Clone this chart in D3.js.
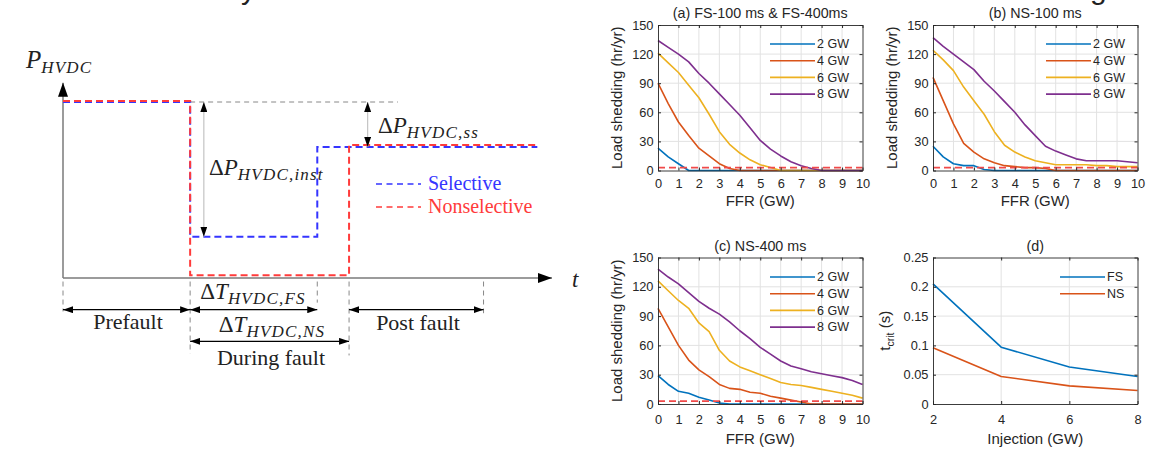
<!DOCTYPE html>
<html>
<head>
<meta charset="utf-8">
<script src="https://cdn.jsdelivr.net/npm/d3@7"></script>
<style>
  body { margin: 0; background: #fff; }
  svg { display: block; }
</style>
</head>
<body>
<svg id="fig"></svg>
<script>
// ---- data -------------------------------------------------------------
// schematic (left): time in arbitrary units 0..100, power in p.u. of prefault
const selectiveT = [0, 26, 26, 52, 52, 97];
const selectiveP = [1, 1, 0.235, 0.235, 0.745, 0.745];
const nonselT = [0, 26, 26, 58.5, 58.5, 97];
const nonselP = [1.006, 1.006, 0.015, 0.015, 0.756, 0.756];
const phaseT = [0, 26, 52, 58.5, 86];          // prefault start, fault, FS clear, NS clear, post end
const phaseDrop = [-0.19, -0.43, -0.14, -0.44, -0.2];

// load shedding vs FFR
const ffrGW = [0, 0.5, 1, 1.5, 2, 2.5, 3, 3.5, 4, 4.5, 5, 5.5, 6, 6.5, 7, 7.5, 8, 8.5, 9, 9.5, 10];
const capacityNames = ['2 GW', '4 GW', '6 GW', '8 GW'];
const shedFS = [
  [23, 14, 7, 0, 0, 0, 0, 0, 0, 0, 0, 0, 0, 0, 0, 0, 0, 0, 0, 0, 0],
  [90, 69, 50, 36, 23, 15, 7, 2, 0, 0, 0, 0, 0, 0, 0, 0, 0, 0, 0, 0, 0],
  [121, 111, 101, 88, 75, 58, 40, 27, 18, 11, 6, 3, 0, 0, 0, 0, 0, 0, 0, 0, 0],
  [134, 127, 120, 112, 100, 90, 79, 68, 57, 44, 31, 22, 15, 9, 5, 2, 0, 0, 0, 0, 0]
];
const shedNS100 = [
  [25, 14, 7, 5, 5, 1, 0, 0, 0, 0, 0, 0, 0, 0, 0, 0, 0, 0, 0, 0, 0],
  [96, 72, 48, 28, 19, 12, 8, 5, 4, 3, 3, 2, 0, 0, 0, 0, 0, 0, 0, 0, 0],
  [124, 114, 103, 86, 72, 58, 40, 26, 19, 14, 10, 8, 6, 6, 6, 6, 5, 5, 4, 4, 4],
  [137, 128, 120, 112, 104, 92, 82, 71, 60, 47, 36, 25, 20, 16, 12, 10, 10, 10, 10, 9, 8]
];
const shedNS400 = [
  [29, 20, 13, 11, 7, 4, 1, 0, 0, 0, 0, 0, 0, 0, 0, 0, 0, 0, 0, 0, 0],
  [98, 79, 60, 45, 35, 28, 20, 16, 15, 12, 11, 8, 6, 4, 2, 0, 0, 0, 0, 0, 0],
  [126, 116, 106, 98, 83, 74, 55, 44, 38, 34, 30, 26, 22, 20, 19, 17, 15, 13, 11, 9, 6],
  [138, 130, 123, 114, 105, 98, 92, 84, 75, 67, 58, 51, 44, 39, 36, 33, 31, 29, 27, 24, 20]
];
const shedLimit = 3;
const ffrTicks = [0, 1, 2, 3, 4, 5, 6, 7, 8, 9, 10];
const shedTicks = [0, 30, 60, 90, 120, 150];

// critical clearing time
const injectionGW = [2, 4, 6, 8];
const schemeNames = ['FS', 'NS'];
const tcritFS = [0.205, 0.097, 0.063, 0.047];
const tcritNS = [0.096, 0.047, 0.031, 0.023];
const injectionTicks = [2, 4, 6, 8];
const tcritTicks = [0, 0.05, 0.1, 0.15, 0.2, 0.25];
const tcritTickLabels = ['0', '0.05', '0.1', '0.15', '0.2', '0.25'];

const matlab = ['#0072BD', '#D95319', '#EDB120', '#7E2F8E'];
const serif = "'Liberation Serif', 'DejaVu Serif', serif";
const sans = "'Liberation Sans', Arial, sans-serif";

const svg = d3.select('#fig').attr('width', 1152).attr('height', 450);
svg.append('rect').attr('width', 1152).attr('height', 450).attr('fill', '#fff');

// cut-off title glyphs at the very top edge
svg.append('text').attr('x', 241).attr('y', -1).attr('font-family', sans)
  .attr('font-size', 30).attr('fill', '#222').text('y');
svg.append('text').attr('x', 1090).attr('y', -1).attr('font-family', sans)
  .attr('font-size', 30).attr('fill', '#222').text('g');

// ---- left: schematic --------------------------------------------------
const defs = svg.append('defs');
const marker = (id, w, h) => defs.append('marker').attr('id', id)
  .attr('viewBox', `0 0 ${w} ${h}`).attr('refX', w).attr('refY', h / 2)
  .attr('markerWidth', w).attr('markerHeight', h).attr('markerUnits', 'userSpaceOnUse')
  .attr('orient', 'auto-start-reverse')
  .append('path').attr('d', `M0,0L${w},${h / 2}L0,${h}Z`).attr('fill', '#000');
marker('ah', 10, 7);
marker('ahBig', 14, 10);

const tS = d3.scaleLinear([0, 100], [63, 552]);
const pS = d3.scaleLinear([0, 1], [278, 102]);
const schem = svg.append('g');

// axes
schem.append('line').attr('x1', tS(0)).attr('x2', tS(0)).attr('y1', pS(0)).attr('y2', pS(1.11))
  .attr('stroke', '#7a7a7a').attr('stroke-width', 1.5).attr('marker-end', 'url(#ahBig)');
schem.append('line').attr('x1', tS(0)).attr('x2', tS(100)).attr('y1', pS(0)).attr('y2', pS(0))
  .attr('stroke', '#7a7a7a').attr('stroke-width', 1.5).attr('marker-end', 'url(#ahBig)');

// reference level
schem.append('line').attr('x1', tS(26)).attr('x2', tS(68.5)).attr('y1', pS(1)).attr('y2', pS(1))
  .attr('stroke', '#888').attr('stroke-dasharray', '5,4');

// phase markers below the axis
schem.selectAll('.phase').data(phaseT).join('line')
  .attr('x1', d => tS(d)).attr('x2', d => tS(d))
  .attr('y1', pS(-0.02)).attr('y2', (d, i) => pS(phaseDrop[i]))
  .attr('stroke', '#888').attr('stroke-dasharray', '5,4');

// signal traces
const stepLine = d3.line().x(d => tS(d[0])).y(d => pS(d[1]));
schem.append('path').attr('d', stepLine(d3.zip(selectiveT, selectiveP)))
  .attr('fill', 'none').attr('stroke', '#3535ff').attr('stroke-width', 2).attr('stroke-dasharray', '7,4');
schem.append('path').attr('d', stepLine(d3.zip(nonselT, nonselP)))
  .attr('fill', 'none').attr('stroke', '#ff3b3b').attr('stroke-width', 2).attr('stroke-dasharray', '7,4');

// delta-P arrows
schem.append('line').attr('x1', tS(28.8)).attr('x2', tS(28.8)).attr('y1', pS(1)).attr('y2', pS(0.235))
  .attr('stroke', '#c4c4c4').attr('stroke-width', 1.2)
  .attr('marker-start', 'url(#ah)').attr('marker-end', 'url(#ah)');
schem.append('line').attr('x1', tS(62.3)).attr('x2', tS(62.3)).attr('y1', pS(1)).attr('y2', pS(0.745))
  .attr('stroke', '#c4c4c4').attr('stroke-width', 1.2)
  .attr('marker-start', 'url(#ah)').attr('marker-end', 'url(#ah)');

// duration arrows
const spans = [[0, 26, -0.18], [26, 52, -0.18], [58.5, 86, -0.18], [26, 58.5, -0.36]];
schem.selectAll('.span').data(spans).join('line')
  .attr('x1', d => tS(d[0])).attr('x2', d => tS(d[1]))
  .attr('y1', d => pS(d[2])).attr('y2', d => pS(d[2]))
  .attr('stroke', '#000').attr('stroke-width', 1.3)
  .attr('marker-start', 'url(#ah)').attr('marker-end', 'url(#ah)');

// math-ish labels
function mathText(x, y, parts, anchor) {
  const t = schem.append('text').attr('x', x).attr('y', y)
    .attr('font-family', serif).attr('font-size', 23).attr('fill', '#222')
    .attr('text-anchor', anchor || 'start');
  let shifted = false;
  parts.forEach(p => {
    const s = t.append('tspan').text(p.t);
    if (p.i) s.attr('font-style', 'italic');
    if (p.sub) {
      s.attr('font-size', 17).attr('font-style', 'italic').attr('letter-spacing', 1.2).attr('dy', 5);
      shifted = true;
    } else if (shifted) {
      s.attr('dy', -5);
      shifted = false;
    }
  });
  return t;
}
mathText(26, 68, [{t: 'P', i: true}, {t: 'HVDC', sub: true}]).attr('font-size', 25);
mathText(572, 287, [{t: 't', i: true}]);
mathText(209, 175, [{t: 'Δ'}, {t: 'P', i: true}, {t: 'HVDC,inst', sub: true}]);
mathText(378, 133, [{t: 'Δ'}, {t: 'P', i: true}, {t: 'HVDC,ss', sub: true}]);
mathText(253, 299, [{t: 'Δ'}, {t: 'T', i: true}, {t: 'HVDC,FS', sub: true}], 'middle');
mathText(272, 332, [{t: 'Δ'}, {t: 'T', i: true}, {t: 'HVDC,NS', sub: true}], 'middle');

const plainText = [['Prefault', 128, 329], ['Post fault', 418, 330], ['During fault', 271, 365]];
schem.selectAll('.lbl').data(plainText).join('text')
  .attr('x', d => d[1]).attr('y', d => d[2]).attr('text-anchor', 'middle')
  .attr('font-family', serif).attr('font-size', 22).attr('fill', '#222').text(d => d[0]);

// schematic legend
const schemLegend = [['Selective', '#3535ff'], ['Nonselective', '#ff3b3b']];
schemLegend.forEach(([name, col], i) => {
  const y = 184 + i * 23;
  schem.append('line').attr('x1', 376).attr('x2', 421).attr('y1', y).attr('y2', y)
    .attr('stroke', col).attr('stroke-width', 1.6).attr('stroke-dasharray', '6,4.5');
  schem.append('text').attr('x', 428).attr('y', y + 6).attr('font-family', serif)
    .attr('font-size', 20).attr('fill', col).text(name);
});

// ---- right: MATLAB-style panels ------------------------------------------
function panel(o) {
  const g = svg.append('g');
  const x = d3.scaleLinear(o.xDomain, [o.left, o.right]);
  const y = d3.scaleLinear(o.yDomain, [o.bottom, o.top]);
  g.selectAll('.gx').data(o.xTicks.slice(1, -1)).join('line')
    .attr('x1', d => x(d)).attr('x2', d => x(d)).attr('y1', o.top).attr('y2', o.bottom)
    .attr('stroke', '#e2e2e2');
  g.selectAll('.gy').data(o.yTicks.slice(1, -1)).join('line')
    .attr('y1', d => y(d)).attr('y2', d => y(d)).attr('x1', o.left).attr('x2', o.right)
    .attr('stroke', '#e2e2e2');

  const line = d3.line().x(d => x(d[0])).y(d => y(d[1]));
  o.series.forEach((vals, i) => {
    g.append('path').attr('d', line(d3.zip(o.xs, vals)))
      .attr('fill', 'none').attr('stroke', matlab[i]).attr('stroke-width', 1.6)
      .attr('stroke-linejoin', 'round');
  });
  if (o.limit != null) {
    g.append('line').attr('x1', x(o.xDomain[0])).attr('x2', x(o.xDomain[1]))
      .attr('y1', y(o.limit)).attr('y2', y(o.limit))
      .attr('stroke', '#f04a4a').attr('stroke-width', 1.7).attr('stroke-dasharray', '7,4');
  }

  const ax = (gen, tx, ty) => g.append('g').attr('transform', `translate(${tx},${ty})`)
    .call(gen).attr('color', '#262626').attr('font-family', sans).attr('font-size', 12.8)
    .call(s => s.select('.domain').attr('stroke-width', 0.9));
  ax(d3.axisBottom(x).tickValues(o.xTicks).tickSize(-3).tickSizeOuter(0).tickPadding(o.xPad)
    .tickFormat(d3.format('d')), 0, o.bottom);
  ax(d3.axisTop(x).tickValues(o.xTicks).tickSize(-3).tickSizeOuter(0).tickFormat(() => ''), 0, o.top);
  ax(d3.axisLeft(y).tickValues(o.yTicks).tickSize(-3).tickSizeOuter(0).tickPadding(4.5)
    .tickFormat(o.yFormat), o.left, 0);
  ax(d3.axisRight(y).tickValues(o.yTicks).tickSize(-3).tickSizeOuter(0).tickFormat(() => ''), o.right, 0);

  const cx = (o.left + o.right) / 2;
  g.append('text').attr('x', cx).attr('y', o.top - 7).attr('text-anchor', 'middle')
    .attr('font-family', sans).attr('font-size', 14.3).attr('fill', '#262626').text(o.title);
  g.append('text').attr('x', cx).attr('y', o.bottom + o.xLabelGap).attr('text-anchor', 'middle')
    .attr('font-family', sans).attr('font-size', 15).attr('fill', '#262626').text(o.xLabel);
  const yl = g.append('text')
    .attr('transform', `translate(${o.left - o.yLabelGap},${(o.top + o.bottom) / 2}) rotate(-90)`)
    .attr('text-anchor', 'middle').attr('font-family', sans).attr('font-size', 15)
    .attr('fill', '#262626');
  o.yLabel(yl);

  o.names.forEach((name, i) => {
    const ly = o.legendTop + i * 16.7;
    g.append('line').attr('x1', o.legendX).attr('x2', o.legendX + 45).attr('y1', ly).attr('y2', ly)
      .attr('stroke', matlab[i]).attr('stroke-width', 1.6);
    g.append('text').attr('x', o.legendX + 47).attr('y', ly + 4.3)
      .attr('font-family', sans).attr('font-size', 12.5).attr('fill', '#262626').text(name);
  });
}

const shedLabel = t => t.text('Load shedding (hr/yr)');
const shedPanels = [
  ['(a) FS-100 ms & FS-400ms', shedFS, 658, 862.5, 25, 170.5, 8.5, 35, 770, 44],
  ['(b) NS-100 ms', shedNS100, 933, 1137.5, 25, 170.5, 8.5, 35, 1046, 44],
  ['(c) NS-400 ms', shedNS400, 658, 862.5, 257.5, 404, 10.5, 40, 770, 277]
];
shedPanels.forEach(([title, series, left, right, top, bottom, xPad, xLabelGap, legendX, legendTop]) => {
  panel({
    title, series, left, right, top, bottom, xPad, xLabelGap, legendX, legendTop,
    xs: ffrGW, xDomain: [0, 10], yDomain: [0, 150], xTicks: ffrTicks, yTicks: shedTicks,
    yFormat: d3.format('d'), xLabel: 'FFR (GW)', yLabel: shedLabel, yLabelGap: 36,
    names: capacityNames, limit: shedLimit
  });
});

panel({
  title: '(d)', series: [tcritFS, tcritNS], xs: injectionGW,
  left: 933, right: 1137.5, top: 257.5, bottom: 404, xPad: 10.5, xLabelGap: 40,
  xDomain: [2, 8], yDomain: [0, 0.25], xTicks: injectionTicks, yTicks: tcritTicks,
  yFormat: (d, i) => tcritTickLabels[i], xLabel: 'Injection (GW)', yLabelGap: 43,
  yLabel: t => {
    t.append('tspan').text('t');
    t.append('tspan').attr('font-size', 10.5).attr('dy', 4).text('crit');
    t.append('tspan').attr('dy', -4).text(' (s)');
  },
  names: schemeNames, legendX: 1060, legendTop: 277, limit: null
});
</script>
</body>
</html>
